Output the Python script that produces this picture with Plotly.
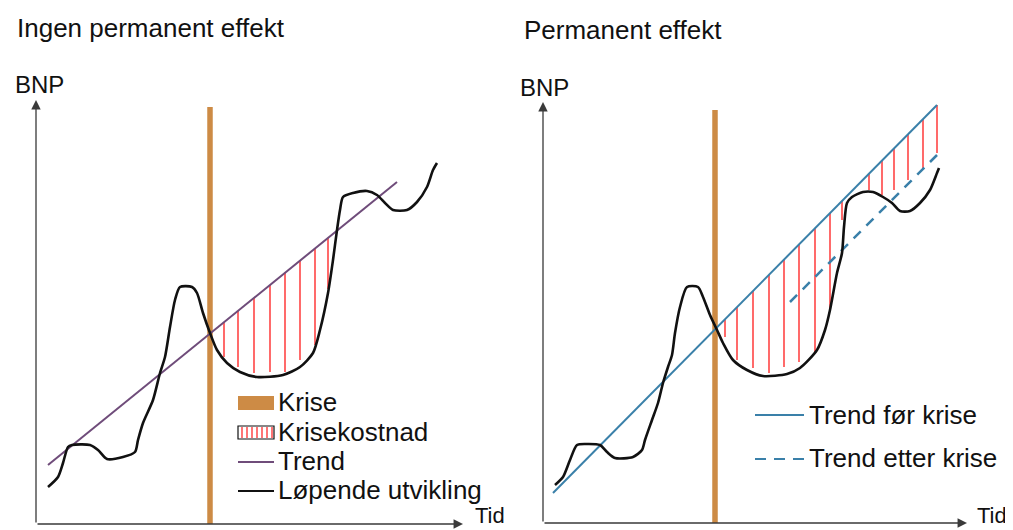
import numpy as np
import plotly.graph_objects as go

W, H = 1013, 530
OFF = 8  # the page body has an 8px margin; layout positions below compensate for it

# ---------------- data (Tid / BNP, arbitrary units) ----------------
# Left panel: "Ingen permanent effekt"
left_time = [12, 22, 27, 32, 36, 54, 62, 71, 87, 99, 102, 107, 117, 124, 129, 134, 139, 144, 156, 161,
             167, 174, 181, 191, 204, 221, 247, 264, 277, 284, 292, 297, 301, 304, 307, 317, 331, 341, 349, 357,
             371, 381, 391, 397, 401]
left_bnp = [37, 47, 61, 77, 79, 79, 74, 65, 67, 72, 84, 101, 124, 151, 167, 197, 224, 237, 237, 231,
            211, 191, 174, 161, 152, 147, 149, 157, 171, 194, 231, 264, 294, 314, 327, 331, 333, 329, 321, 314,
            314, 322, 337, 354, 361]
left_trend_time = [12, 361]
left_trend_bnp = [59, 342]
left_crisis_time = 174
left_crisis_top = 417
left_hatch_time = [188, 202, 218, 234, 249, 264, 279, 292]
left_hatch_low = [167, 157, 151, 152, 152, 164, 179, 235]

# Right panel: "Permanent effekt"
right_time = [12, 20, 27, 34, 44, 57, 64, 72, 90, 99, 102, 109, 115, 120, 125, 129, 132, 137, 144, 155,
              160, 167, 174, 180, 190, 204, 220, 244, 257, 274, 282, 287, 294, 299, 301, 304, 309, 320, 330, 340,
              349, 357, 367, 377, 387, 394, 396]
right_bnp = [38, 46, 63, 78, 79, 78, 71, 65, 66, 73, 83, 103, 120, 140, 156, 168, 190, 216, 236, 236,
             226, 208, 193, 180, 163, 153, 147, 149, 155, 173, 193, 213, 250, 270, 296, 320, 326, 331, 331, 326,
             320, 312, 312, 320, 333, 350, 355]
right_trend_before_time = [10, 394]
right_trend_before_bnp = [30, 418]
right_trend_after_time = [247, 394]
right_trend_after_bnp = [221, 368]
right_crisis_time = 172
right_crisis_top = 413
right_hatch_time = [182, 194, 210, 226, 241, 256, 272, 287, 299, 326, 339, 351, 365, 380, 394]
right_hatch_low = [186, 163, 155, 150, 156, 161, 171, 213, 303, 333, 328, 333, 343, 355, 370]

titles = ["Ingen permanent effekt", "Permanent effekt"]
legend_left = ["Krise", "Krisekostnad", "Trend", "Løpende utvikling"]
legend_right = ["Trend før krise", "Trend etter krise"]
y_label = "BNP"
x_label = "Tid"

# ---------------- styles ----------------
FONT = "Liberation Sans, Arial, sans-serif"
ORANGE = "#CD8B45"
PURPLE = "#6F4C7A"
BLUE = "#3A80A9"
RED = "rgba(255,20,20,0.9)"
CURVE = "#111111"
AXIS = "#3a3a3a"


def hatch_xy(times, lows, trend_t, trend_b):
    tops = np.interp(times, trend_t, trend_b)
    xs, ys = [], []
    for t, lo, hi in zip(times, lows, tops):
        xs += [t, t, None]
        ys += [lo, hi, None]
    return xs, ys


fig = go.Figure()

# ---- left panel
fig.add_trace(go.Scatter(x=[left_crisis_time, left_crisis_time], y=[0, left_crisis_top], mode="lines",
                         line=dict(color=ORANGE, width=5.5), name="Krise", showlegend=False,
                         xaxis="x", yaxis="y"))
hx, hy = hatch_xy(left_hatch_time, left_hatch_low, left_trend_time, left_trend_bnp)
fig.add_trace(go.Scatter(x=hx, y=hy, mode="lines", line=dict(color=RED, width=1.4),
                         name="Krisekostnad", showlegend=False, xaxis="x", yaxis="y"))
fig.add_trace(go.Scatter(x=left_trend_time, y=left_trend_bnp, mode="lines",
                         line=dict(color=PURPLE, width=2), name="Trend", showlegend=False,
                         xaxis="x", yaxis="y"))
fig.add_trace(go.Scatter(x=left_time, y=left_bnp, mode="lines",
                         line=dict(color=CURVE, width=2.6, shape="spline", smoothing=0.7),
                         name="Løpende utvikling", showlegend=False, xaxis="x", yaxis="y"))

# ---- right panel
fig.add_trace(go.Scatter(x=[right_crisis_time, right_crisis_time], y=[0, right_crisis_top], mode="lines",
                         line=dict(color=ORANGE, width=5.5), name="Krise", showlegend=False,
                         xaxis="x2", yaxis="y2"))
hx, hy = hatch_xy(right_hatch_time, right_hatch_low, right_trend_before_time, right_trend_before_bnp)
fig.add_trace(go.Scatter(x=hx, y=hy, mode="lines", line=dict(color=RED, width=1.4),
                         name="Krisekostnad", showlegend=False, xaxis="x2", yaxis="y2"))
fig.add_trace(go.Scatter(x=right_trend_before_time, y=right_trend_before_bnp, mode="lines",
                         line=dict(color=BLUE, width=2), name="Trend før krise", showlegend=False,
                         xaxis="x2", yaxis="y2"))
fig.add_trace(go.Scatter(x=right_trend_after_time, y=right_trend_after_bnp, mode="lines",
                         line=dict(color=BLUE, width=2.5, dash="10px,8px"), name="Trend etter krise",
                         showlegend=False, xaxis="x2", yaxis="y2"))
fig.add_trace(go.Scatter(x=right_time, y=right_bnp, mode="lines",
                         line=dict(color=CURVE, width=2.6, shape="spline", smoothing=0.7),
                         name="Løpende utvikling", showlegend=False, xaxis="x2", yaxis="y2"))


def px(x):
    return (x - OFF) / W


def py(y):
    return 1 - (y - OFF) / H


hidden = dict(visible=False, showgrid=False, zeroline=False, fixedrange=True)
annotations = []
shapes = []

# axes with arrows
for xr, yr, xtip, ytip in [("x", "y", 427, 424), ("x2", "y2", 424, 421)]:
    for (tx, ty) in [(xtip, 0), (0, ytip)]:
        annotations.append(dict(x=tx, y=ty, ax=0, ay=0, xref=xr, yref=yr, axref=xr, ayref=yr,
                                showarrow=True, arrowhead=2, arrowsize=1.45, arrowwidth=1.3,
                                arrowcolor=AXIS, standoff=0, text=""))


def label(text, x, y, size):
    annotations.append(dict(text=text, x=px(x), y=py(y), xref="paper", yref="paper",
                            xanchor="left", yanchor="middle", showarrow=False, borderpad=0,
                            font=dict(family=FONT, size=size, color="#111111")))


label(titles[0], 16, 28, 26)
label(titles[1], 523, 30, 26)
label(y_label, 14, 85, 24)
label(y_label, 519, 88, 24)
label(x_label, 474, 515, 22)
label(x_label, 976, 515, 22)

# left legend
LS = 26
label(legend_left[0], 277, 402, LS)
label(legend_left[1], 277, 432, LS)
label(legend_left[2], 277, 461, LS)
label(legend_left[3], 277, 490, LS)
shapes.append(dict(type="rect", xref="paper", yref="paper", x0=px(238), x1=px(274), y0=py(410), y1=py(396),
                   fillcolor=ORANGE, line=dict(width=0)))
for hxp in range(242, 274, 5):
    shapes.append(dict(type="line", xref="paper", yref="paper", x0=px(hxp), x1=px(hxp), y0=py(438), y1=py(427),
                       line=dict(color=RED, width=1.3)))
shapes.append(dict(type="rect", xref="paper", yref="paper", x0=px(238), x1=px(274), y0=py(439), y1=py(426),
                   line=dict(color="#111111", width=1.2)))
shapes.append(dict(type="line", xref="paper", yref="paper", x0=px(238), x1=px(274), y0=py(462), y1=py(462),
                   line=dict(color=PURPLE, width=2)))
shapes.append(dict(type="line", xref="paper", yref="paper", x0=px(238), x1=px(274), y0=py(491), y1=py(491),
                   line=dict(color=CURVE, width=2)))

# right legend
label(legend_right[0], 808, 415, LS)
label(legend_right[1], 808, 458, LS)
shapes.append(dict(type="line", xref="paper", yref="paper", x0=px(755), x1=px(804), y0=py(415), y1=py(415),
                   line=dict(color=BLUE, width=2)))
shapes.append(dict(type="line", xref="paper", yref="paper", x0=px(755), x1=px(804), y0=py(459), y1=py(459),
                   line=dict(color=BLUE, width=2, dash="11px,8px")))

fig.update_layout(
    width=W, height=H,
    margin=dict(l=0, r=0, t=0, b=0),
    paper_bgcolor="white", plot_bgcolor="rgba(0,0,0,0)",
    showlegend=False,
    xaxis=dict(domain=[px(36), px(466)], range=[0, 430], anchor="y", **hidden),
    yaxis=dict(domain=[py(524), py(100)], range=[0, 424], anchor="x", **hidden),
    xaxis2=dict(domain=[px(543), px(973)], range=[0, 430], anchor="y2", **hidden),
    yaxis2=dict(domain=[py(523), py(99)], range=[0, 424], anchor="x2", **hidden),
    annotations=annotations,
    shapes=shapes,
)

fig.write_html("out.html")
